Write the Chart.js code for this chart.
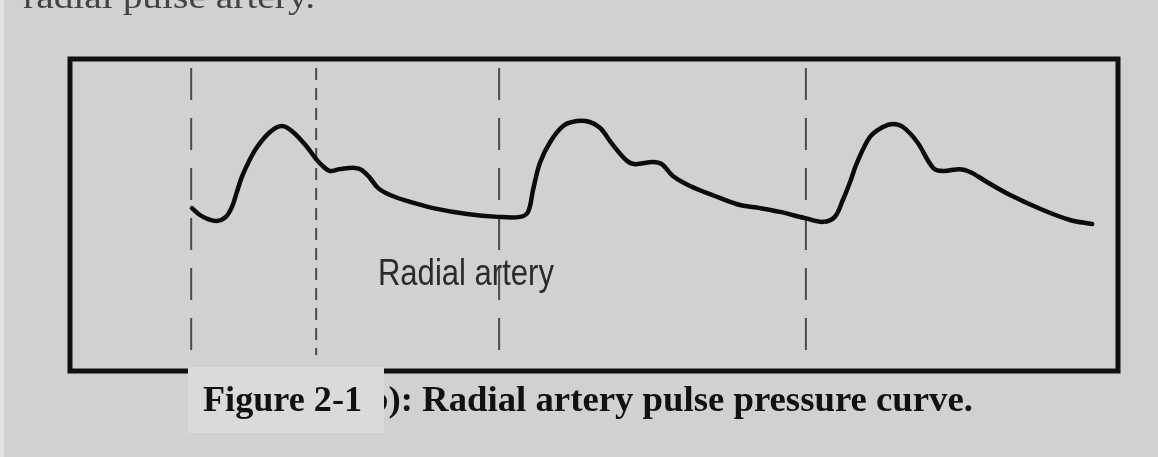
<!DOCTYPE html>
<html>
<head>
<meta charset="utf-8">
<script src="https://cdn.jsdelivr.net/npm/chart.js@4/dist/chart.umd.min.js"></script>
<style>
  html,body{margin:0;padding:0;background:#d1d1d1;}
  canvas{display:block;}
</style>
</head>
<body>
<canvas id="pulseChart" width="1158" height="457"></canvas>
<script>
// ===== Data =====
// time in seconds across the recording window, pressure in arbitrary units (0..100)
const timeSec = [
  0.320, 0.341, 0.362, 0.386, 0.409, 0.425, 0.438, 0.451, 0.470, 0.491,
  0.525, 0.556, 0.585, 0.622, 0.648, 0.666, 0.682, 0.708, 0.748, 0.766,
  0.787, 0.808, 0.840, 0.884, 0.953, 1.042, 1.123, 1.181, 1.202, 1.215,
  1.233, 1.260, 1.294, 1.330, 1.364, 1.391, 1.425, 1.462, 1.483, 1.530,
  1.553, 1.582, 1.627, 1.698, 1.758, 1.811, 1.863, 1.929, 1.976, 2.007,
  2.028, 2.047, 2.065, 2.099, 2.133, 2.160, 2.186, 2.223, 2.265, 2.291,
  2.335, 2.362, 2.406, 2.467, 2.553, 2.624, 2.682
];
const pressure = [
  52.2, 50.0, 48.7, 48.1, 49.4, 52.6, 57.4, 62.2, 67.3, 71.8,
  76.6, 78.5, 76.6, 71.8, 67.6, 65.4, 64.1, 64.7, 65.1, 64.4,
  61.9, 58.7, 56.4, 54.5, 52.2, 50.3, 49.4, 49.4, 51.0, 58.0,
  66.7, 73.4, 78.5, 80.1, 79.8, 77.9, 72.4, 67.3, 66.3, 67.0,
  66.3, 62.5, 59.3, 55.8, 53.2, 52.2, 51.0, 49.0, 47.8, 49.4,
  54.8, 60.6, 66.7, 75.0, 78.2, 79.2, 78.2, 73.4, 65.1, 64.1,
  64.7, 63.8, 60.6, 56.4, 51.6, 48.4, 47.1
];
// dashed beat markers (time) and their vertical span (top -> bottom)
const markerTimes = [0.318, 0.646, 1.126, 1.931];
const markerSpan = [97.1, 5.1];

const xRange = [0, 2.75];
const yRange = [0, 100];

const curveLabel = 'Radial artery';
const curveLabelAt = {x: 0.808, y: 27.6};
const figureTag = 'Figure 2-1';
const captionText = 'b): Radial artery pulse pressure curve.';
const runningText = 'radial pulse artery.';

// ===== Datasets =====
const curveData = timeSec.map((t, i) => ({x: t, y: pressure[i]}));

const markerDatasets = markerTimes.map((t, i) => ({
  label: 'marker ' + (i + 1),
  data: markerSpan.map(v => ({x: t, y: v})),
  borderColor: '#4a4a4a',
  borderWidth: 2,
  borderDash: i === 1 ? [12, 8] : [32, 18],
  pointRadius: 0,
  tension: 0,
  fill: false
}));

// texto ajustado a un ancho fijo (el escaneo tiene fuentes condensadas)
function fitText(ctx, text, x, y, width){
  const w = ctx.measureText(text).width;
  ctx.save();
  ctx.translate(x, y);
  ctx.scale(width / w, 1);
  ctx.fillText(text, 0, 0);
  ctx.restore();
}

const paperPlugin = {
  id: 'paper',
  beforeDraw(chart){
    const {ctx, width, height} = chart;
    ctx.save();
    ctx.fillStyle = '#d1d1d1';
    ctx.fillRect(0, 0, width, height);
    ctx.fillStyle = '#e4e4e4';
    ctx.fillRect(0, 0, 4, height);
    // texto cortado arriba (línea anterior del documento)
    ctx.fillStyle = '#444';
    ctx.font = '34px "Liberation Serif", serif';
    ctx.textBaseline = 'alphabetic';
    fitText(ctx, runningText, 23, 8, 292);
    ctx.restore();
  },
  afterDraw(chart){
    const {ctx, chartArea:{left, top, right, bottom}, scales:{x, y}} = chart;
    ctx.save();
    // marco
    ctx.strokeStyle = '#111';
    ctx.lineWidth = 5;
    ctx.strokeRect(left, top, right - left, bottom - top);

    // etiqueta de la curva
    ctx.fillStyle = '#2b2b2b';
    ctx.font = '37px "Liberation Sans", Arial, sans-serif';
    ctx.textBaseline = 'alphabetic';
    fitText(ctx, curveLabel, x.getPixelForValue(curveLabelAt.x), y.getPixelForValue(curveLabelAt.y), 176);

    // pie de figura
    ctx.fillStyle = '#111';
    ctx.font = 'bold 36px "Liberation Serif", "Times New Roman", serif';
    ctx.textAlign = 'left';
    fitText(ctx, captionText, 368, 411, 973 - 368);

    ctx.fillStyle = '#dadada';
    ctx.fillRect(188, 367, 196, 66);
    ctx.fillStyle = '#111';
    fitText(ctx, figureTag, 203, 411, 159);
    ctx.restore();
  }
};

new Chart(document.getElementById('pulseChart'), {
  type: 'line',
  data: {
    datasets: [
      {
        label: curveLabel,
        data: curveData,
        borderColor: '#0b0b0b',
        borderWidth: 4.5,
        borderCapStyle: 'round',
        borderJoinStyle: 'round',
        pointRadius: 0,
        tension: 0.35,
        fill: false
      },
      ...markerDatasets
    ]
  },
  options: {
    responsive: false,
    devicePixelRatio: 1,
    animation: false,
    layout: {padding: {left: 70, right: 40, top: 59, bottom: 86}},
    plugins: {legend: {display: false}, tooltip: {enabled: false}},
    scales: {
      x: {type: 'linear', min: xRange[0], max: xRange[1], display: false},
      y: {type: 'linear', min: yRange[0], max: yRange[1], display: false}
    }
  },
  plugins: [paperPlugin]
});
</script>
</body>
</html>
